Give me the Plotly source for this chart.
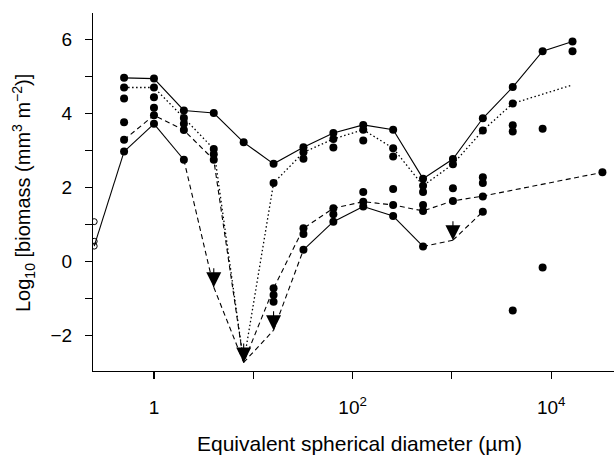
import plotly.graph_objects as go

# ---- data (size classes are octaves: x = 2**exp, in µm) ----
# individual observations (filled dots)
dot_exp = ([-1]*6 + [0]*6 + [1]*5 + [2]*4 + [3] + [4]*5 + [5]*6 + [6]*6 + [7]*6 +
           [8]*6 + [9]*6 + [10]*4 + [11]*6 + [12]*5 + [13]*3 + [14]*2 + [15])
dot_val = [4.96, 4.70, 4.40, 3.76, 3.29, 2.97,
           4.94, 4.70, 4.44, 4.15, 3.95, 3.72,
           4.08, 3.88, 3.72, 3.55, 2.75,
           4.01, 3.04, 2.90, 2.75,
           3.22,
           2.64, 2.12, -0.72, -0.90, -1.08,
           3.09, 2.95, 2.78, 0.90, 0.75, 0.32,
           3.47, 3.31, 3.08, 1.44, 1.28, 1.08,
           3.69, 3.56, 3.27, 1.88, 1.62, 1.49,
           3.56, 3.06, 2.84, 1.96, 1.53, 1.23,
           2.24, 2.05, 1.88, 1.53, 1.37, 0.41,
           2.77, 2.63, 1.98, 1.64,
           3.87, 3.54, 2.28, 2.12, 1.76, 1.35,
           4.71, 4.27, 3.68, 3.51, -1.32,
           5.68, 3.59, -0.16,
           5.94, 5.68,
           2.41]

# open circles (smallest class)
open_exp = [-2, -2, -2]
open_val = [1.08, 0.55, 0.42]

# upper envelope (solid)
max_exp = [-1, 0, 1, 2, 3, 4, 5, 6, 7, 8, 9, 10, 11, 12, 13, 14]
max_val = [4.96, 4.94, 4.08, 4.01, 3.22, 2.64, 3.09, 3.47, 3.69, 3.56, 2.24, 2.77, 3.87, 4.71, 5.68, 5.94]

# dotted series
dot_line_exp = [-1, 0, 1, 2, 3, 4, 5, 6, 7, 8, 9, 10, 11, 12, 14]
dot_line_val = [4.70, 4.70, 3.88, 3.04, -2.72, 2.12, 2.95, 3.31, 3.56, 3.06, 2.05, 2.63, 3.54, 4.27, 4.77]

# dashed series
dash_exp = [-1, 0, 1, 2, 3, 4, 5, 6, 7, 8, 9, 10, 11, 15]
dash_val = [3.29, 3.95, 3.55, 2.75, -2.72, -0.72, 0.90, 1.44, 1.62, 1.53, 1.37, 1.64, 1.77, 2.41]

# lower envelope (solid between observations, dashed to/from detection limits)
min_exp = [-2, -1, 0, 1, 2, 3, 4, 5, 6, 7, 8, 9, 10, 11]
min_val = [0.42, 2.97, 3.72, 2.75, -0.69, -2.72, -1.85, 0.32, 1.08, 1.49, 1.23, 0.41, 0.58, 1.35]
min_cens = [False, False, False, False, True, True, True, False, False, False, False, False, True, False]

x_tick_vals = [1, 100, 10000]
x_tick_text = ["1", "10<sup>2</sup>", "10<sup>4</sup>"]
x_minor_vals = [10, 1000]
y_tick_vals = [-2, 0, 2, 4, 6]
y_tick_text = ["\u22122", "0", "2", "4", "6"]
y_minor_vals = [-1, 1, 3, 5]

# ---- figure ----
W, H = 614, 455
ML, MR, MT, MB = 93, 0, 13, 84
x_range = [-0.614, 4.632]
y_range = [-2.95, 6.71]
px_per_unit = (H - MT - MB) / (y_range[1] - y_range[0])

def xs(exps):
    return [2.0 ** e for e in exps]

FONT = "Liberation Sans, Arial, Helvetica, sans-serif"
LW = 1.1
DOT = "1.5px,2.5px"
DASH = "5px,3.5px"

fig = go.Figure()

# lines
fig.add_trace(go.Scatter(x=xs(max_exp), y=max_val, mode="lines",
                         line=dict(color="black", width=LW), hoverinfo="skip"))
fig.add_trace(go.Scatter(x=xs(dot_line_exp), y=dot_line_val, mode="lines",
                         line=dict(color="black", width=LW + 0.2, dash=DOT), hoverinfo="skip"))
fig.add_trace(go.Scatter(x=xs(dash_exp), y=dash_val, mode="lines",
                         line=dict(color="black", width=LW, dash=DASH), hoverinfo="skip"))

seg_solid_x, seg_solid_y, seg_dash_x, seg_dash_y = [], [], [], []
for i in range(len(min_exp) - 1):
    sx = [2.0 ** min_exp[i], 2.0 ** min_exp[i + 1], None]
    sy = [min_val[i], min_val[i + 1], None]
    if min_cens[i] or min_cens[i + 1]:
        seg_dash_x += sx; seg_dash_y += sy
    else:
        seg_solid_x += sx; seg_solid_y += sy
fig.add_trace(go.Scatter(x=seg_solid_x, y=seg_solid_y, mode="lines",
                         line=dict(color="black", width=LW), hoverinfo="skip"))
fig.add_trace(go.Scatter(x=seg_dash_x, y=seg_dash_y, mode="lines",
                         line=dict(color="black", width=LW, dash=DASH), hoverinfo="skip"))

# observations
fig.add_trace(go.Scatter(x=xs(dot_exp), y=dot_val, mode="markers",
                         marker=dict(color="black", size=8, line=dict(width=0))))
fig.add_trace(go.Scatter(x=xs(open_exp), y=open_val, mode="markers",
                         marker=dict(symbol="circle-open", color="black", size=6,
                                     line=dict(width=1, color="black"))))

# detection-limit arrows
cx = [2.0 ** e for e, c in zip(min_exp, min_cens) if c]
cy = [v for v, c in zip(min_val, min_cens) if c]
stem_lo = 10 / px_per_unit
stem_hi = 19 / px_per_unit
stem_x, stem_y = [], []
for a, b in zip(cx, cy):
    stem_x += [a, a, None]
    stem_y += [b + stem_lo, b + stem_hi, None]
fig.add_trace(go.Scatter(x=stem_x, y=stem_y, mode="lines",
                         line=dict(color="black", width=LW), hoverinfo="skip"))
fig.add_trace(go.Scatter(x=cx, y=cy, mode="markers",
                         marker=dict(symbol="arrow-down", color="black", size=15,
                                     line=dict(width=0))))

axis_common = dict(showline=True, linecolor="black", linewidth=1.1, mirror=False,
                   ticks="outside", ticklen=7, tickwidth=1.1, tickcolor="black",
                   showgrid=False, zeroline=False,
                   tickfont=dict(family=FONT, size=19, color="black"))
minor_common = dict(ticks="outside", ticklen=7, tickwidth=1.1, tickcolor="black",
                    showgrid=False, tickmode="array")

fig.update_layout(
    width=W, height=H,
    margin=dict(l=ML, r=MR, t=MT, b=MB, pad=0, autoexpand=False),
    paper_bgcolor="white", plot_bgcolor="white",
    showlegend=False,
    xaxis=dict(type="log", range=x_range, tickmode="array", tickvals=x_tick_vals,
               ticktext=x_tick_text, minor=dict(tickvals=x_minor_vals, **minor_common),
               ticklabelstandoff=12, automargin=False, **axis_common),
    yaxis=dict(range=y_range, tickmode="array", tickvals=y_tick_vals, ticktext=y_tick_text,
               minor=dict(tickvals=y_minor_vals, **minor_common),
               ticklabelstandoff=9, automargin=False, **axis_common),
    annotations=[
        dict(text="Equivalent spherical diameter (\u00b5m)", xref="paper", yref="paper",
             x=(359 - ML) / (W - ML - MR), y=-(443 - (H - MB)) / (H - MT - MB),
             xanchor="center", yanchor="middle", showarrow=False,
             font=dict(family=FONT, size=21, color="black")),
        dict(text="Log<sub>10</sub> [biomass (mm<sup>3</sup> m<sup>\u22122</sup>)]",
             xref="paper", yref="paper",
             x=(23 - ML) / (W - ML - MR), y=((H - MB) - 193) / (H - MT - MB),
             xanchor="center", yanchor="middle", textangle=-90, showarrow=False,
             font=dict(family=FONT, size=20, color="black")),
    ],
)

fig.write_html("out.html", config={"displayModeBar": False, "staticPlot": True},
               post_script="document.body.style.margin='0';document.body.style.overflow='hidden';")
